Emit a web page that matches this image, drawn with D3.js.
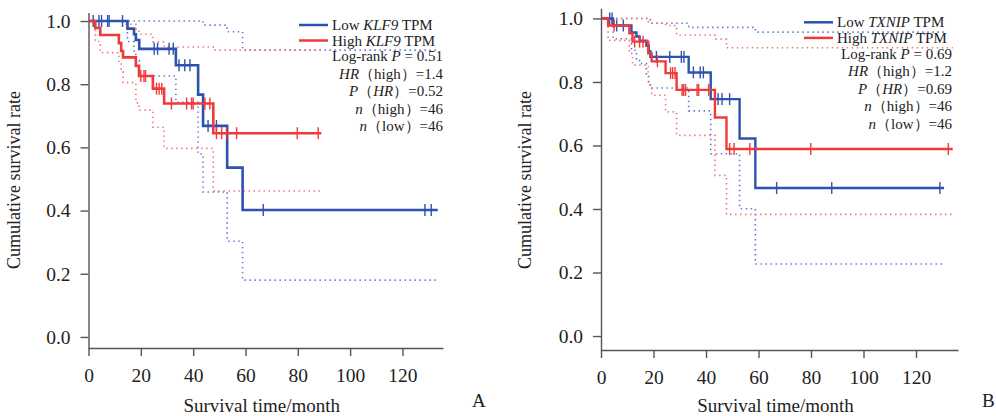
<!DOCTYPE html>
<meta charset="utf-8">

<head>
    <style>
        body { margin: 0; background: #fff; }
        svg text { font-family: "Liberation Serif", "Times New Roman", serif; fill: #222; }
        .axis path, .axis line { fill: none; stroke: #555; stroke-width: 1.4px; }
        .axis text { font-size: 19.5px; font-family: "Liberation Serif", serif; fill: #222; }
        .legend text { font-size: 15px; }
    </style>
</head>

<body>

<script src="https://d3js.org/d3.v7.min.js"></script>

<script>

    // tick values
    var timeTicks = [0, 20, 40, 60, 80, 100, 120];
    var survTicks = [0, 0.2, 0.4, 0.6, 0.8, 1.0];

    // Panel A - KLF9, low expression group (blue)
    var klf9LowTime  = [0, 14.9, 17.4, 18.1, 19.4, 33.4, 41.9, 43.8, 53.0, 58.9, 133.5];
    var klf9LowSurv  = [1, 0.976, 0.958, 0.940, 0.912, 0.860, 0.767, 0.668, 0.536, 0.402, 0.402];
    var klf9LowUpper = [1, 1, 1, 1, 1, 1, 1, 0.987, 0.966, 0.908, 0.908];
    var klf9LowLower = [1, 0.935, 0.905, 0.875, 0.826, 0.743, 0.579, 0.459, 0.303, 0.180, 0.180];
    var klf9LowCensor = [1.8, 4, 5, 7.3, 7.9, 13, 25.1, 26.4, 30.8, 32.4, 34.6, 36.8, 38.8, 45.7, 48.9, 66.8, 128.6, 131];

    // Panel A - KLF9, high expression group (red)
    var klf9HighTime  = [0, 2.6, 4.5, 11.6, 12.5, 13.2, 18.1, 19.3, 24.6, 28.9, 47.7, 89];
    var klf9HighSurv  = [1, 0.978, 0.956, 0.930, 0.905, 0.885, 0.858, 0.826, 0.786, 0.739, 0.645, 0.645];
    var klf9HighUpper = [1, 1, 1, 1, 1, 0.99, 0.975, 0.958, 0.934, 0.918, 0.908, 0.908];
    var klf9HighLower = [1, 0.935, 0.9, 0.87, 0.84, 0.805, 0.741, 0.718, 0.664, 0.597, 0.462, 0.462];
    var klf9HighCensor = [20, 21.2, 21.8, 26, 27, 28, 31.7, 37.5, 39.4, 40, 44.5, 46.4, 48.9, 50.9, 52.8, 56.6, 79.8, 87.8];

    // Panel B - TXNIP, low expression group (blue)
    var txnipLowTime  = [0, 4.6, 11.6, 13.5, 14.7, 17.3, 18.2, 18.8, 33.4, 41.8, 52.8, 58.8, 130.7];
    var txnipLowSurv  = [1, 0.978, 0.956, 0.943, 0.930, 0.914, 0.897, 0.879, 0.830, 0.746, 0.622, 0.466, 0.466];
    var txnipLowUpper = [1, 1, 1, 1, 1, 1, 1, 0.985, 0.972, 0.972, 0.972, 0.957, 0.957];
    var txnipLowLower = [1, 0.936, 0.9, 0.87, 0.858, 0.82, 0.8, 0.781, 0.709, 0.574, 0.401, 0.227, 0.227];
    var txnipLowCensor = [3.3, 4.2, 6.0, 8.5, 21.1, 26.2, 30.6, 31.6, 35.2, 37.8, 39, 44.6, 46.1, 49, 66.9, 87.9, 129.1];

    // Panel B - TXNIP, high expression group (red)
    var txnipHighTime  = [0, 2.7, 10.8, 12.0, 18.0, 19.3, 24.6, 28.8, 43.4, 47.8, 134];
    var txnipHighSurv  = [1, 0.978, 0.953, 0.927, 0.890, 0.865, 0.828, 0.775, 0.688, 0.589, 0.589];
    var txnipHighUpper = [1, 1, 1, 1, 0.99, 0.985, 0.978, 0.948, 0.935, 0.908, 0.908];
    var txnipHighLower = [1, 0.931, 0.89, 0.853, 0.79, 0.758, 0.706, 0.632, 0.506, 0.383, 0.383];
    var txnipHighCensor = [5, 12.8, 14.7, 16, 21.5, 26.5, 27.3, 28.2, 30.9, 31.5, 32.2, 36.6, 37.2, 41, 49, 50.7, 56.7, 79.9, 132.3];

    // legend / annotation texts
    var klf9Legend = ["Low ", "KLF9", " TPM", "High ", "KLF9", " TPM"];
    var klf9Stats = ["0.51", "1.4", "0.52", "46", "46"];
    var txnipLegend = ["Low ", "TXNIP", " TPM", "High ", "TXNIP", " TPM"];
    var txnipStats = ["0.69", "1.2", "0.69", "46", "46"];

    var blue = "#2f52b0", red = "#f03a3a",
        blueCI = "#5877cc", redCI = "#f27272";

    var svg = d3.select("body").append("svg")
        .attr("width", 996)
        .attr("height", 416);

    function survAt(times, surv, t) {
        var i = d3.bisectRight(times, t) - 1;
        return surv[Math.max(0, i)];
    }

    function drawPanel(p) {
        var x = d3.scaleLinear().domain([0, p.tMax]).range([p.x0, p.x1]);
        var y = d3.scaleLinear().domain([p.sMin, p.sMax]).range([p.yBottom, p.yTop]);

        var g = svg.append("g");

        // x axis
        g.append("g")
            .attr("class", "axis")
            .attr("transform", "translate(0," + p.yBottom + ")")
            .call(d3.axisBottom(x).tickValues(timeTicks).tickSize(8).tickSizeOuter(0).tickPadding(12));

        // y axis
        g.append("g")
            .attr("class", "axis")
            .attr("transform", "translate(" + p.x0 + ",0)")
            .call(d3.axisLeft(y).tickValues(survTicks).tickSize(8).tickSizeOuter(0).tickPadding(10)
                .tickFormat(d3.format(".1f")));

        var line = d3.line()
            .x(function (d) { return x(d[0]); })
            .y(function (d) { return y(d[1]); })
            .curve(d3.curveStepAfter);

        // confidence bands (dotted)
        p.groups.forEach(function (gr) {
            [gr.upper, gr.lower].forEach(function (band) {
                g.append("path")
                    .datum(d3.zip(gr.time, band))
                    .attr("fill", "none")
                    .attr("stroke", gr.ci)
                    .attr("stroke-width", 1.6)
                    .attr("stroke-dasharray", "1.4,3.6")
                    .attr("d", line);
            });
        });

        // survival curves
        p.groups.forEach(function (gr) {
            g.append("path")
                .datum(d3.zip(gr.time, gr.surv))
                .attr("fill", "none")
                .attr("stroke", gr.color)
                .attr("stroke-width", p.lw)
                .attr("d", line);

            g.selectAll(null)
                .data(gr.censor)
                .enter().append("line")
                .attr("x1", function (d) { return x(d); })
                .attr("x2", function (d) { return x(d); })
                .attr("y1", function (d) { return y(survAt(gr.time, gr.surv, d)) - 6; })
                .attr("y2", function (d) { return y(survAt(gr.time, gr.surv, d)) + 6; })
                .attr("stroke", gr.color)
                .attr("stroke-width", 1.4);
        });

        // axis titles
        g.append("text")
            .attr("x", (p.x0 + p.x1) / 2 - 4)
            .attr("y", 412)
            .attr("text-anchor", "middle")
            .style("font-size", "19px")
            .text("Survival time/month");

        g.append("text")
            .attr("transform", "translate(" + p.yTitleX + "," + 180 + ") rotate(-90)")
            .attr("text-anchor", "middle")
            .style("font-size", "18px")
            .text("Cumulative survival rate");

        g.append("text")
            .attr("x", p.letterX)
            .attr("y", 407)
            .style("font-size", "19px")
            .text(p.letter);

        // legend
        var lg = g.append("g").attr("class", "legend");
        var lx = p.legendX, ly = p.legendY, step = p.legendStep;
        [[p.groups[0], 0], [p.groups[1], 1]].forEach(function (e) {
            var yy = ly + e[1] * (step - 2);
            lg.append("line")
                .attr("x1", lx).attr("x2", lx + 29)
                .attr("y1", yy).attr("y2", yy)
                .attr("stroke", e[0].color)
                .attr("stroke-width", 2.5);
            var t = lg.append("text").attr("x", lx + 33).attr("y", yy + 5);
            var words = p.legend.slice(e[1] * 3, e[1] * 3 + 3);
            t.append("tspan").text(words[0]);
            t.append("tspan").style("font-style", "italic").text(words[1]);
            t.append("tspan").text(words[2]);
        });

        var rx = p.statsRight, ry = ly + 2 * step - 4;
        var rows = [
            [["Log-rank ", false], ["P", true], [" = " + p.stats[0], false]],
            [["HR", true], ["（high）=" + p.stats[1], false]],
            [["P", true], ["（", false], ["HR", true], ["）=" + p.stats[2], false]],
            [["n", true], ["（high）=" + p.stats[3], false]],
            [["n", true], ["（low）=" + p.stats[4], false]]
        ];
        rows.forEach(function (r, i) {
            var t = lg.append("text")
                .attr("x", rx)
                .attr("y", ry + i * step + 5)
                .attr("text-anchor", "end");
            r.forEach(function (s) {
                t.append("tspan")
                    .style("font-style", s[1] ? "italic" : "normal")
                    .text(s[0]);
            });
        });
    }

    drawPanel({
        tMax: 135.5, x0: 88.5, x1: 443,
        sMin: -0.035, sMax: 1.027, yBottom: 348, yTop: 12.5,
        lw: 2.6,
        yTitleX: 20, letter: "A", letterX: 472,
        legendX: 299, legendY: 25, legendStep: 17.5, statsRight: 443,
        legend: klf9Legend, stats: klf9Stats,
        groups: [
            {time: klf9LowTime, surv: klf9LowSurv, upper: klf9LowUpper, lower: klf9LowLower,
                censor: klf9LowCensor, color: blue, ci: blueCI},
            {time: klf9HighTime, surv: klf9HighSurv, upper: klf9HighUpper, lower: klf9HighLower,
                censor: klf9HighCensor, color: red, ci: redCI}
        ]
    });

    drawPanel({
        tMax: 136, x0: 601, x1: 958,
        sMin: -0.044, sMax: 1.032, yBottom: 350, yTop: 8.3,
        lw: 2.4,
        yTitleX: 531, letter: "B", letterX: 982,
        legendX: 804, legendY: 22.3, legendStep: 17.6, statsRight: 952,
        legend: txnipLegend, stats: txnipStats,
        groups: [
            {time: txnipLowTime, surv: txnipLowSurv, upper: txnipLowUpper, lower: txnipLowLower,
                censor: txnipLowCensor, color: blue, ci: blueCI},
            {time: txnipHighTime, surv: txnipHighSurv, upper: txnipHighUpper, lower: txnipHighLower,
                censor: txnipHighCensor, color: red, ci: redCI}
        ]
    });

</script>

</body>
